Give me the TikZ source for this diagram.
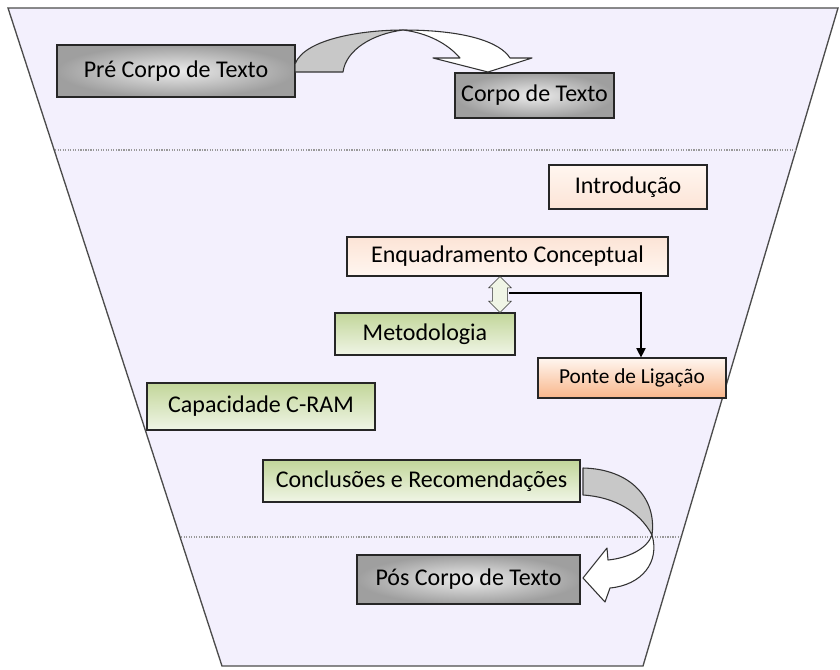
\documentclass[tikz,border=0pt]{standalone}
\usepackage{fontspec}
\setmainfont{Carlito}
\usepackage{xcolor}
\usetikzlibrary{shapes.arrows, arrows.meta}

\definecolor{funil}{HTML}{F3F0FD}
\definecolor{verdeA}{HTML}{C2D69A}
\definecolor{verdeB}{HTML}{F0F5E6}
\definecolor{pessegoA}{HTML}{FCE4D6}
\definecolor{pessegoB}{HTML}{FFF6F0}
\definecolor{laranja}{HTML}{F8B68A}
\definecolor{seta}{HTML}{C8C8C8}

\begin{document}
\begin{tikzpicture}[x=0.75pt, y=-0.75pt,
        caixa/.style={draw=black!85, line width=0.9pt, font=\fontsize{18}{20}\selectfont},
        cinza/.style={caixa, inner color=gray!15, outer color=gray!75},
        verde/.style={caixa, top color=verdeA, bottom color=verdeB},
        pessego/.style={caixa, top color=pessegoA, bottom color=pessegoB},
        laranjada/.style={caixa, top color=pessegoB, bottom color=laranja, font=\fontsize{16}{18}\selectfont},
        pontilhado/.style={gray!80, line width=0.9pt, densely dotted},
        blocoseta/.style={draw=black!80, line width=0.8pt, line join=round}]
        \useasboundingbox (0, 0) rectangle (840, 669);

        % funil
        \filldraw[fill=funil, draw=black!70, line width=1pt] (8, 8) -- (838, 8) -- (643, 666) -- (222, 666) -- cycle;
        \draw[pontilhado] (55, 150) -- (795, 150);
        \draw[pontilhado] (181, 537) -- (681, 537);

        \node[cinza, minimum width=178.5pt, minimum height=39pt] (pre) at (176, 71) {Pré Corpo de Texto};
        \node[cinza, minimum width=119.25pt, minimum height=33.75pt] (corpo) at (534.5, 95.5) {Corpo de Texto};
        \node[pessego, top color=pessegoB, bottom color=pessegoA, minimum width=118.5pt, minimum height=33pt] (intro) at (628, 187) {Introdução};
        \node[pessego, minimum width=240.75pt, minimum height=29.25pt] (enq) at (507.5, 256.5) {Enquadramento Conceptual};
        \node[verde, minimum width=135pt, minimum height=31.5pt] (metod) at (425, 334) {Metodologia};
        \node[laranjada, minimum width=141pt, minimum height=30pt] (ponte) at (632, 378) {Ponte de Ligação};
        \node[verde, minimum width=171pt, minimum height=35.25pt] (capac) at (261, 406.5) {Capacidade C-RAM};
        \node[verde, minimum width=237.75pt, minimum height=31.5pt] (concl) at (421.5, 481) {Conclusões e Recomendações};
        \node[cinza, minimum width=167.25pt, minimum height=36.75pt] (pos) at (468.5, 579.5) {Pós Corpo de Texto};

        % seta dupla e ligacao
        \node[double arrow, draw=black!80, fill=verdeB, rotate=90, inner sep=4.5pt,
            minimum height=27pt, minimum width=17pt, double arrow head extend=2.5pt] (dupla) at (500, 294.5) {};
        \coordinate (liga) at (509, 293);
        \draw[-{Triangle[width=7pt, length=7pt]}, line width=0.8pt] (liga) -| ([xshift=6.75pt]ponte.north);

        % seta curva de cima
        \filldraw[blocoseta, fill=seta] (295, 72) -- (295, 64) .. controls (305, 38) and (365, 30) .. (403, 30)
            .. controls (372, 34) and (346, 50) .. (343, 72) -- cycle;
        \filldraw[blocoseta, fill=white] (403, 30) .. controls (465, 30) and (500, 42) .. (510, 58)
            -- (532, 58) -- (488, 72) -- (433, 58) -- (460, 58) .. controls (448, 44) and (428, 33) .. (403, 30) -- cycle;

        % seta curva de baixo
        \filldraw[blocoseta, fill=seta] (583, 468) .. controls (630, 469) and (657, 498) .. (652, 535)
            .. controls (640, 512) and (615, 497) .. (583, 495) -- cycle;
        \filldraw[blocoseta, fill=white] (652, 535) .. controls (647, 549) and (628, 558) .. (608, 560)
            -- (607, 548) -- (583, 578) -- (605, 602) -- (610, 588)
            .. controls (642, 585) and (660, 562) .. (652, 535) -- cycle;
    \end{tikzpicture}
\end{document}
